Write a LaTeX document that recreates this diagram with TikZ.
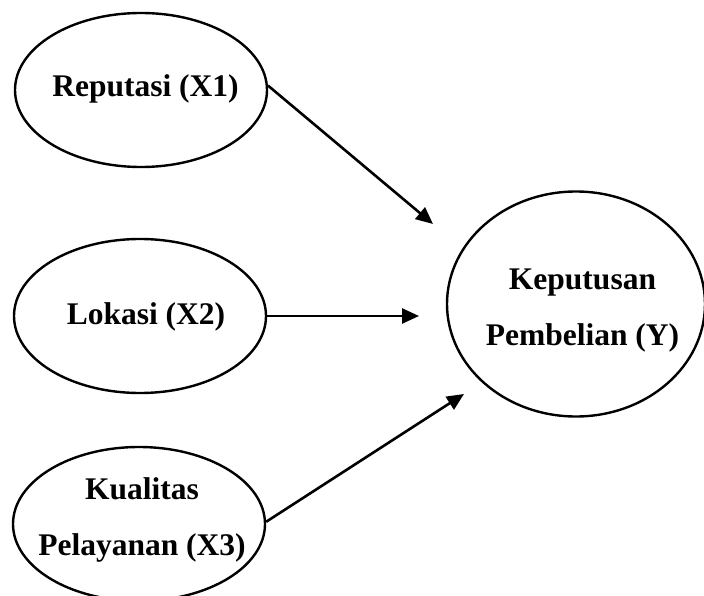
\documentclass[tikz,border=0pt]{standalone}
\usepackage{fontspec}
\setmainfont{Liberation Serif}
\usetikzlibrary{shapes.geometric,arrows.meta}
\begin{document}
\begin{tikzpicture}[x=1pt,y=-1pt,
  var/.style={ellipse,draw,line width=2.4pt,inner sep=0pt,
    minimum width=252pt,minimum height=154pt},
  lbl/.style={anchor=base,inner sep=0pt,
    font=\fontsize{31.5}{56}\selectfont\bfseries,align=center},
  link/.style={line width=2.6pt,-{Triangle[length=17pt,width=15pt]}}]
\useasboundingbox (0,0) rectangle (704,596);
\node[var] (x1) at (141,90) {};
\node[var] (x2) at (140,316) {};
\node[var] (x3) at (139,524) {};
\node[var,minimum width=258pt,minimum height=225pt] (y) at (576,304) {};
\node[lbl] (l1) at (145.5,97) {Reputasi (X1)};
\node[lbl] (l2) at (146,324) {Lokasi (X2)};
\node[lbl] (l3) at (142,555) {Kualitas\\Pelayanan (X3)};
\node[lbl] (ly) at (582.5,345) {Keputusan\\Pembelian (Y)};
\coordinate (t1) at (433,224);
\coordinate (t2) at (419,316);
\coordinate (t3) at (464,394);
\draw[link] (x1.2) -- (t1);
\draw[link] (x2.east) -- (t2);
\draw[link] (x3.1) -- (t3);
\end{tikzpicture}
\end{document}
